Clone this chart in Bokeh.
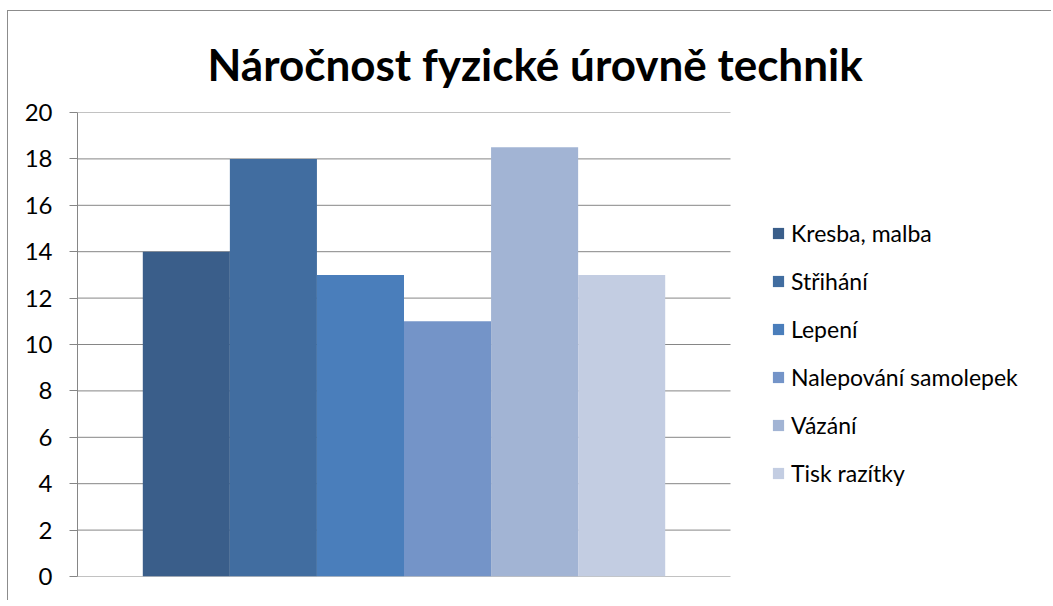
from bokeh.plotting import figure
from bokeh.models import ColumnDataSource, Legend, LegendItem, Range1d, FixedTicker
from bokeh.embed import file_html
from bokeh.resources import INLINE

title_text = "Náročnost fyzické úrovně technik"
categories = ["Kresba, malba", "Střihání", "Lepení", "Nalepování samolepek", "Vázání", "Tisk razítky"]
values = [14, 18, 13, 11, 18.5, 13]
colors = ["#3A5E8A", "#416DA0", "#4A7EBB", "#7494C8", "#A2B4D4", "#C3CDE2"]
y_ticks = [0, 2, 4, 6, 8, 10, 12, 14, 16, 18, 20]

# layout (pixels)
W, H = 1044, 590
LEFT, RIGHT, TOP, BOTTOM = 69, 5, 101, 25
PLOT_W = 653  # width of the gridded plot area
frame_w = W - LEFT - RIGHT

gap = 0.75
n = len(categories)
x_span = n + 2 * gap
xs = [gap + 0.5 + i for i in range(n)]
source = ColumnDataSource(dict(x=xs, top=values, category=categories, color=colors))

p = figure(width=W, height=H,
           x_range=Range1d(0, x_span * frame_w / PLOT_W),
           y_range=Range1d(0, 20),
           output_backend="svg", toolbar_location=None,
           min_border_left=LEFT, min_border_right=RIGHT,
           min_border_top=TOP, min_border_bottom=BOTTOM)
p.styles = {"margin-left": "7px", "margin-top": "10px",
            "border-left": "1px solid #8c8c8c", "border-top": "1px solid #8c8c8c"}

# horizontal gridlines limited to the plot area
p.segment(x0=[0] * len(y_ticks), x1=[x_span] * len(y_ticks), y0=y_ticks, y1=y_ticks,
          line_color="#868686", line_width=1)

r = p.vbar(x="x", top="top", bottom=0, width=1.0, fill_color="color",
           line_color=None, source=source)

p.xaxis.visible = False
p.xgrid.visible = False
p.ygrid.visible = False
p.outline_line_color = None

ax = p.yaxis[0]
ax.ticker = FixedTicker(ticks=y_ticks)
ax.major_tick_out = 8
ax.major_tick_in = 0
ax.minor_tick_line_color = None
ax.axis_line_color = "#868686"
ax.major_tick_line_color = "#868686"
ax.major_label_text_font = "Lato"
ax.major_label_text_font_size = "24px"
ax.major_label_text_color = "black"
ax.major_label_standoff = 17

p.title.text = title_text
p.title.text_font = "Lato"
p.title.text_font_style = "bold"
p.title.text_font_size = "44px"
p.title.text_color = "black"
p.title.align = "left"
p.title.offset = 130
p.title.standoff = 46

items = [LegendItem(label=c, renderers=[r], index=i) for i, c in enumerate(categories)]
legend = Legend(items=items, location=(694, 89))
legend.border_line_color = None
legend.background_fill_alpha = 0
legend.glyph_width = 14
legend.glyph_height = 14
legend.label_standoff = 6
legend.label_height = 28
legend.spacing = 20
legend.padding = 10
legend.margin = 0
legend.label_text_font = "Lato"
legend.label_text_font_size = "23px"
legend.label_text_color = "black"
p.add_layout(legend, "center")

open("out.html", "w").write(file_html(p, INLINE))
